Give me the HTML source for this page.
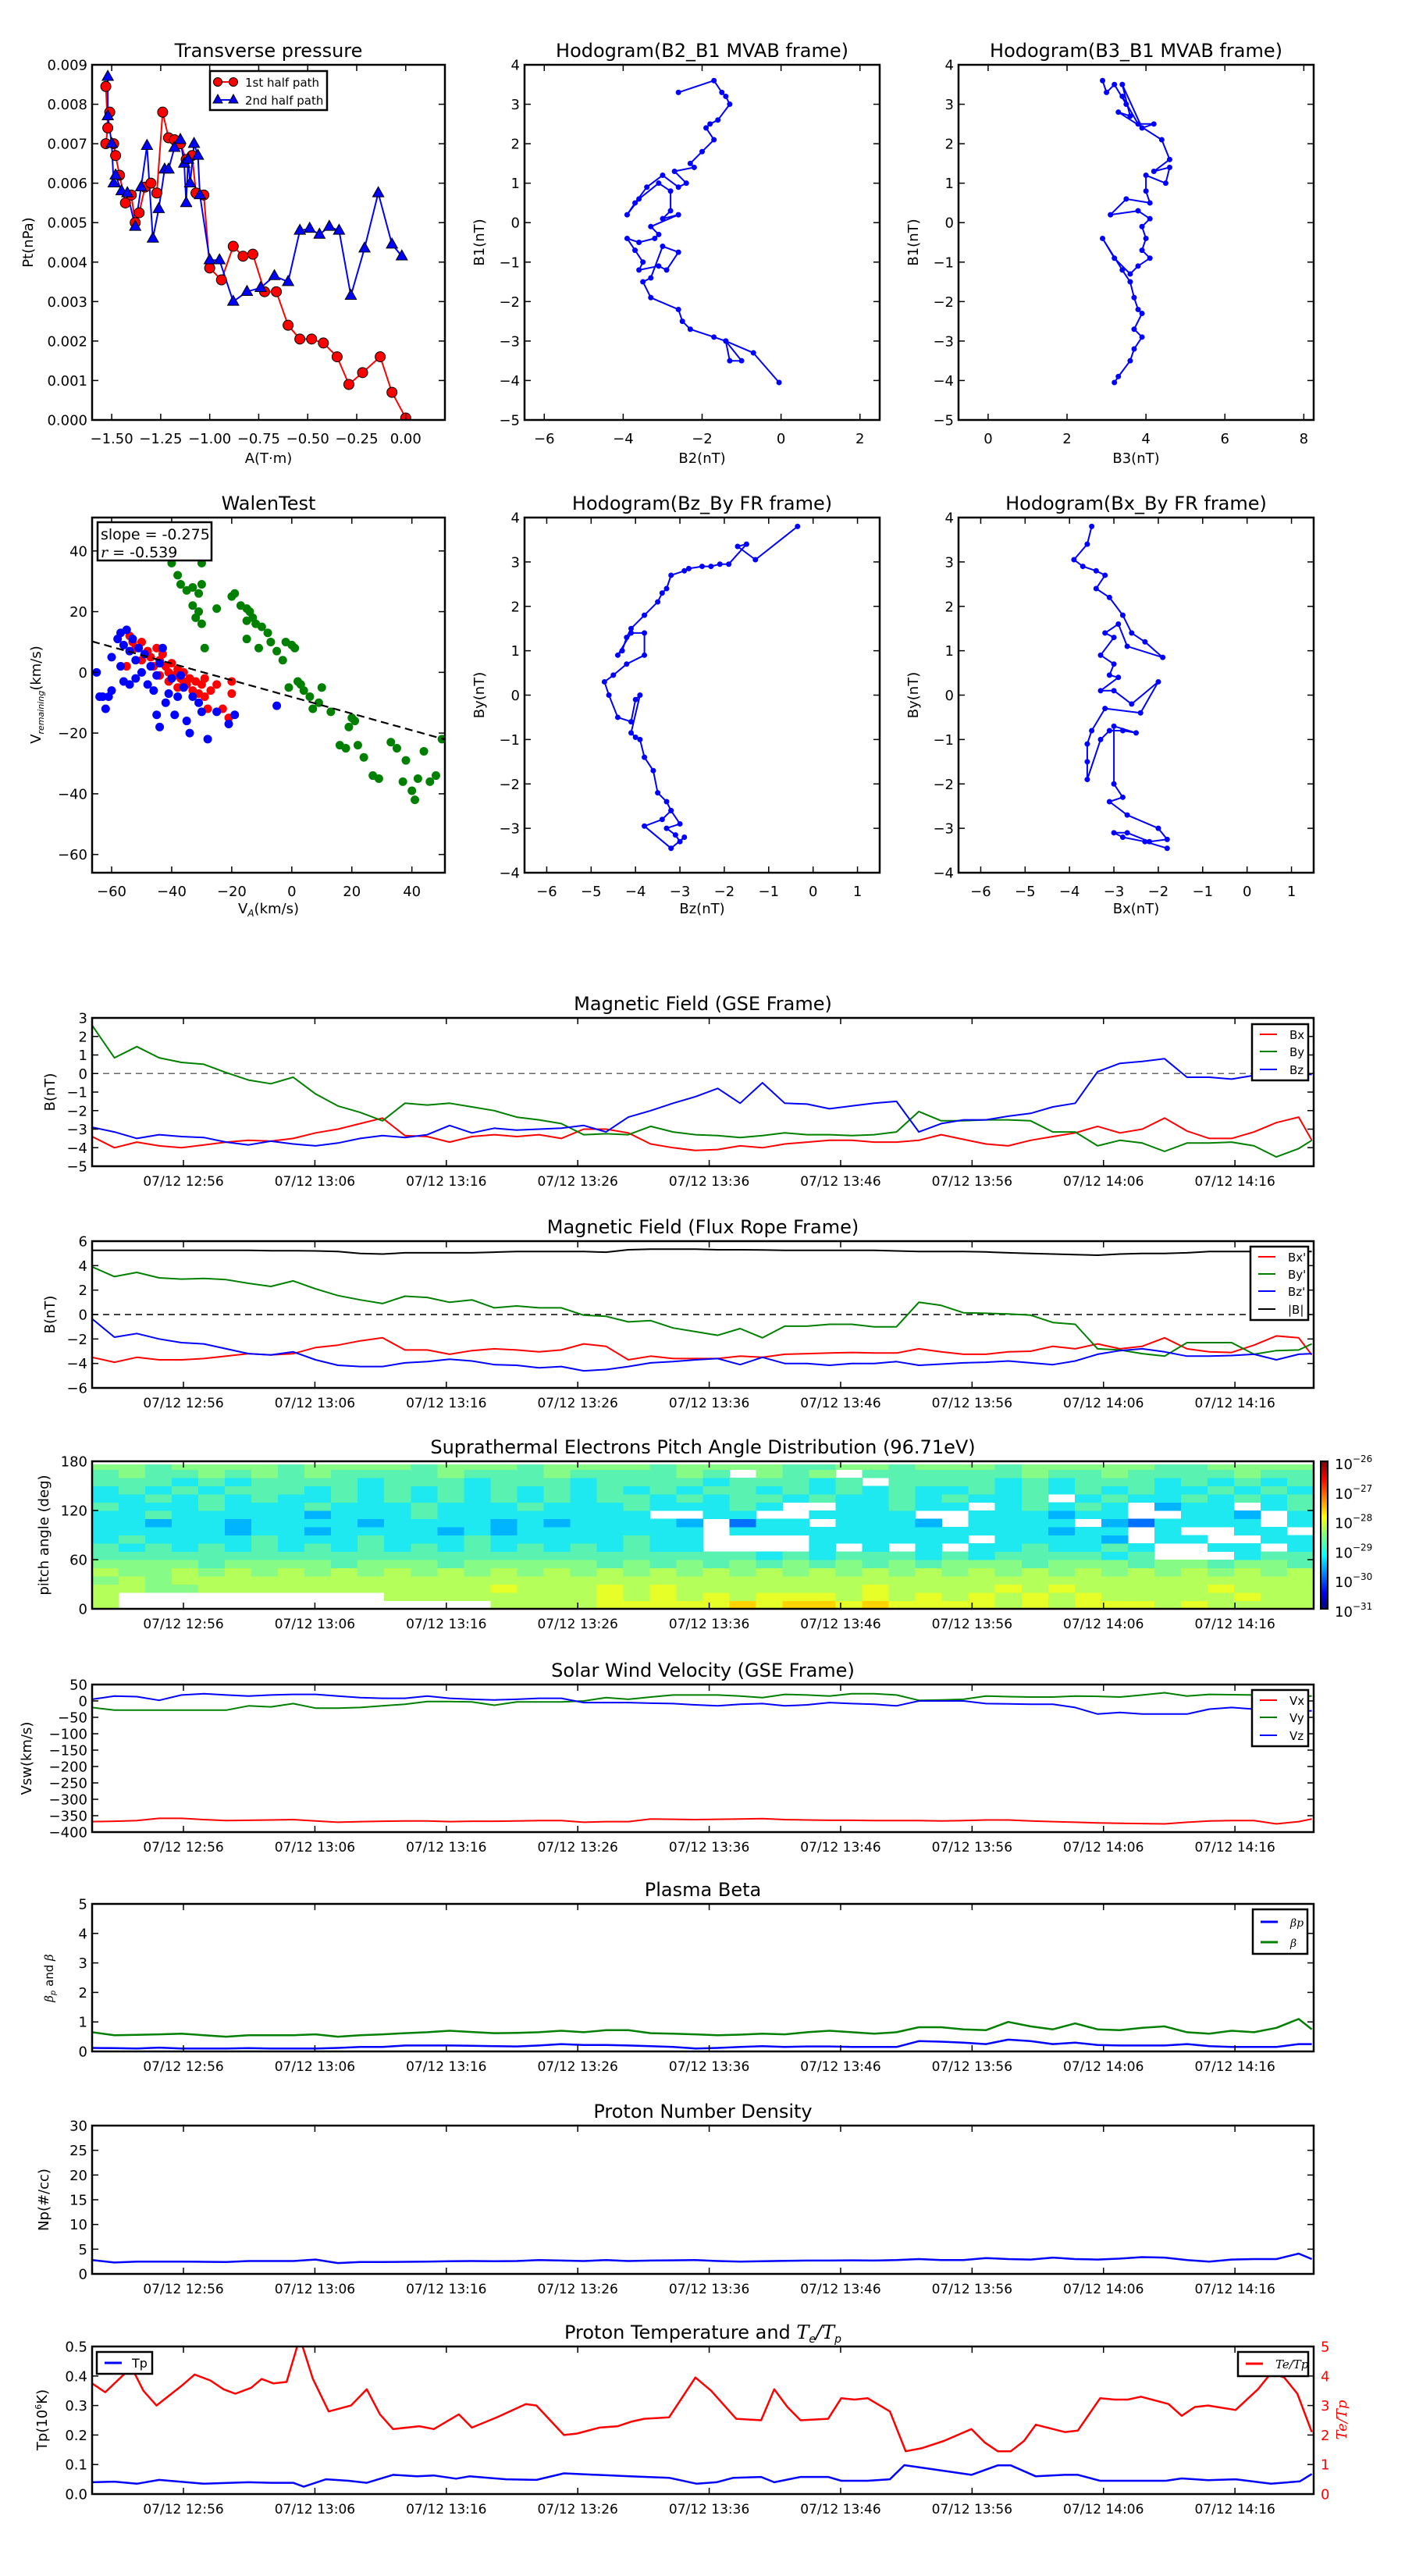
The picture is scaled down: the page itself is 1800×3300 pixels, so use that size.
<!DOCTYPE html>
<html><head><meta charset="utf-8">
<style>
html,body{margin:0;padding:0;background:#fff;}
svg{display:block;font-family:"DejaVu Sans","Liberation Sans",sans-serif;}
</style></head>
<body>
<svg id="fig" width="1800" height="3300" viewBox="0 0 1800 3300" xmlns="http://www.w3.org/2000/svg">
<rect width="1800" height="3300" fill="#fff"/>
</svg>
<script>
// ---------- data: transverse pressure ----------
const ptRedA=[-1.53,-1.52,-1.51,-1.53,-1.49,-1.48,-1.46,-1.43,-1.40,-1.38,-1.36,-1.33,-1.30,-1.27,-1.24,-1.21,-1.18,-1.15,-1.12,-1.09,-1.07,-1.03,-1.00,-0.94,-0.88,-0.83,-0.78,-0.72,-0.66,-0.60,-0.54,-0.48,-0.42,-0.35,-0.29,-0.22,-0.13,-0.07,0.00];
const ptRedP=[8.45,7.4,7.8,7.0,7.0,6.7,6.2,5.5,5.7,5.0,5.25,5.9,6.0,5.75,7.8,7.15,7.1,7.0,6.6,6.7,5.75,5.7,3.85,3.55,4.4,4.15,4.2,3.25,3.25,2.4,2.05,2.05,1.95,1.6,0.9,1.2,1.6,0.7,0.05];
const ptBlueA=[-1.52,-1.52,-1.50,-1.49,-1.48,-1.45,-1.42,-1.38,-1.35,-1.32,-1.29,-1.26,-1.23,-1.21,-1.18,-1.15,-1.13,-1.12,-1.11,-1.10,-1.08,-1.06,-1.05,-1.00,-0.95,-0.88,-0.81,-0.74,-0.67,-0.60,-0.54,-0.49,-0.44,-0.39,-0.34,-0.28,-0.21,-0.14,-0.07,-0.02];
const ptBlueP=[8.7,7.7,7.0,6.0,6.2,5.8,5.75,4.9,5.9,6.95,4.6,5.35,6.35,6.35,6.9,7.1,6.5,5.5,6.6,6.0,7.0,6.7,5.7,4.05,4.05,3.0,3.25,3.35,3.65,3.5,4.8,4.85,4.7,4.9,4.8,3.15,4.35,5.75,4.45,4.15];
// ---------- hodogram B2-B1 ----------
const h1B2=[-2.6,-1.7,-1.5,-1.4,-1.3,-1.6,-1.8,-1.9,-1.7,-2.0,-2.3,-2.2,-2.7,-2.4,-2.6,-3.0,-3.4,-3.7,-3.9,-3.6,-3.1,-2.8,-2.8,-3.0,-2.6,-3.3,-3.1,-3.2,-3.6,-3.9,-3.7,-3.5,-3.6,-3.1,-2.9,-2.6,-3.0,-3.3,-3.5,-3.3,-2.6,-2.5,-2.3,-1.7,-1.4,-1.3,-1.0,-1.4,-0.7,-0.05];
const h1B1=[3.3,3.6,3.3,3.2,3.0,2.6,2.5,2.4,2.1,1.8,1.5,1.4,1.3,1.0,0.9,1.2,0.9,0.5,0.2,0.6,1.0,0.8,0.3,0.1,0.2,-0.1,-0.3,-0.4,-0.5,-0.4,-0.7,-1.0,-1.2,-1.1,-1.2,-0.75,-0.6,-1.4,-1.5,-1.9,-2.2,-2.5,-2.7,-2.9,-3.0,-3.5,-3.5,-3.0,-3.3,-4.05];
// ---------- hodogram B3-B1 ----------
const h2B3=[2.9,3.0,3.2,3.5,3.4,3.8,4.2,3.9,3.4,3.6,3.3,4.4,4.6,4.2,4.6,4.5,4.0,4.0,4.1,3.5,3.1,3.8,4.1,3.9,4.0,3.9,4.1,3.8,3.6,3.2,2.9,3.4,3.6,3.7,3.8,3.9,3.7,3.9,3.7,3.6,3.3,3.2];
const h2B1=[3.6,3.3,3.5,3.0,3.2,2.5,2.5,2.4,3.5,2.7,2.8,2.1,1.6,1.3,1.4,1.0,1.2,0.8,0.5,0.6,0.2,0.3,0.1,-0.1,-0.4,-0.7,-0.9,-1.1,-1.3,-0.9,-0.4,-1.2,-1.5,-1.9,-2.2,-2.3,-2.7,-2.9,-3.2,-3.5,-3.9,-4.05];
// ---------- Walen test ----------
const wGreenX=[-40,-38,-37,-35,-33,-31,-30,-33,-31,-30,-32,-29,-25,-20,-19,-17,-15,-14,-13,-12,-15,-10,-8,-15,-11,-7,-5,-3,-2,0,1,-1,2,3,4,6,7,9,10,13,16,19,20,18,22,24,27,29,33,35,37,38,40,41,42,44,46,48,50,21,-30];
const wGreenY=[36,32,29,27,28,26,29,22,20,16,18,8,21,25,26,22,21,20,18,16,17,15,13,11,8,10,7,4,10,9,8,-5,-3,-4,-6,-8,-12,-10,-5,-13,-24,-18,-15,-25,-24,-28,-34,-35,-23,-25,-36,-29,-39,-42,-35,-26,-36,-34,-22,-16,36];
const wRedX=[-54,-53,-52,-50,-48,-47,-45,-44,-43,-42,-41,-40,-39,-38,-37,-36,-35,-34,-33,-32,-30,-29,-28,-27,-25,-23,-21,-20,-55,-50,-46,-44,-41,-38,-36,-31,-20,-29];
const wRedY=[12,10,8,10,7,5,8,4,6,2,0,3,-1,1,-2,0,-4,-2,-6,-3,-4,-8,-12,-6,-4,-12,-15,-7,2,4,2,-1,-3,-5,-3,-7,-3,-2];
const wBlueX=[-65,-63,-62,-61,-60,-58,-57,-56,-55,-54,-53,-52,-51,-50,-49,-48,-47,-46,-45,-44,-43,-42,-41,-40,-39,-38,-36,-35,-34,-33,-31,-30,-28,-25,-21,-19,-5,-60,-57,-54,-52,-45,-44,-37,-64,-56];
const wBlueY=[0,-8,-12,-8,5,11,13,9,14,7,11,4,8,0,6,-4,2,-6,-1,3,8,-10,-7,-2,-14,-8,-5,-16,-20,-8,-10,-13,-22,-13,-17,-14,-11,-6,2,-4,-2,-14,-18,-1,-8,-3];
const walenFitX=[-66.5,51];
const walenFitY=[10.2,-22.1];
// ---------- hodogram Bz-By ----------
const h3Bz=[-0.35,-1.3,-1.7,-1.5,-1.9,-2.1,-2.3,-2.5,-2.8,-2.9,-3.2,-3.3,-3.4,-3.5,-3.8,-4.1,-4.2,-4.3,-4.4,-4.1,-3.8,-3.8,-4.2,-4.5,-4.7,-4.6,-4.4,-4.1,-4.0,-3.9,-4.1,-4.0,-3.9,-3.8,-3.6,-3.5,-3.3,-3.2,-3.0,-3.3,-3.1,-3.0,-2.9,-3.2,-3.8,-3.4,-3.2];
const h3By=[3.8,3.05,3.35,3.4,2.95,2.95,2.9,2.9,2.85,2.8,2.7,2.4,2.3,2.1,1.8,1.5,1.3,1.0,0.9,1.4,1.4,0.9,0.7,0.45,0.3,0.0,-0.5,-0.6,-0.1,0.0,-0.85,-0.95,-1.0,-1.4,-1.7,-2.2,-2.4,-2.6,-2.9,-3.0,-3.15,-3.3,-3.2,-3.45,-2.95,-2.8,-2.6];
// ---------- hodogram Bx-By ----------
const h4Bx=[-3.5,-3.6,-3.9,-3.7,-3.4,-3.2,-3.4,-3.1,-2.8,-2.6,-2.3,-1.9,-2.7,-2.9,-3.2,-3.0,-3.3,-3.0,-3.1,-2.9,-3.3,-3.0,-2.6,-2.0,-2.4,-3.2,-3.5,-3.6,-3.6,-3.6,-3.3,-3.1,-2.8,-2.5,-3.0,-3.0,-2.8,-3.1,-2.7,-2.0,-1.8,-2.2,-2.7,-3.0,-2.8,-2.3,-1.8];
const h4By=[3.8,3.4,3.05,2.9,2.8,2.7,2.4,2.2,1.8,1.4,1.2,0.85,1.1,1.6,1.4,1.3,0.9,0.7,0.45,0.4,0.1,0.1,-0.2,0.3,-0.4,-0.3,-0.8,-1.1,-1.5,-1.9,-1.0,-0.8,-0.8,-0.85,-0.7,-2.0,-2.3,-2.4,-2.7,-3.0,-3.25,-3.3,-3.1,-3.1,-3.2,-3.3,-3.45];
// ---------- time series (minutes after 12:49:03) ----------
const tGrid=[0,1.7,3.4,5.1,6.8,8.5,10.2,11.9,13.6,15.3,17.0,18.7,20.4,22.1,23.8,25.5,27.2,28.9,30.6,32.3,34.0,35.7,37.4,39.1,40.8,42.5,44.2,45.9,47.6,49.3,51.0,52.7,54.4,56.1,57.8,59.5,61.2,62.9,64.6,66.3,68.0,69.7,71.4,73.1,74.8,76.5,78.2,79.9,81.6,83.3,85.0,86.7,88.4,90.1,91.8,92.8];
const timeTicks=["07/12 12:56","07/12 13:06","07/12 13:16","07/12 13:26","07/12 13:36","07/12 13:46","07/12 13:56","07/12 14:06","07/12 14:16"];
const timeTickMin=[6.95,16.95,26.95,36.95,46.95,56.95,66.95,76.95,86.95];
const gseBx=[-3.4,-4.0,-3.7,-3.9,-4.0,-3.85,-3.7,-3.6,-3.65,-3.5,-3.2,-3.0,-2.7,-2.4,-3.35,-3.4,-3.7,-3.4,-3.3,-3.4,-3.3,-3.5,-3.0,-3.0,-3.2,-3.8,-4.0,-4.15,-4.1,-3.9,-4.0,-3.8,-3.7,-3.6,-3.6,-3.7,-3.7,-3.6,-3.3,-3.55,-3.8,-3.9,-3.6,-3.4,-3.2,-2.85,-3.2,-3.0,-2.4,-3.1,-3.5,-3.5,-3.15,-2.65,-2.35,-3.6];
const gseBy=[2.6,0.85,1.45,0.85,0.6,0.5,0.05,-0.35,-0.55,-0.2,-1.1,-1.75,-2.1,-2.55,-1.6,-1.7,-1.6,-1.8,-2.0,-2.35,-2.5,-2.7,-3.3,-3.25,-3.3,-2.85,-3.15,-3.3,-3.35,-3.45,-3.35,-3.2,-3.3,-3.3,-3.35,-3.3,-3.15,-2.05,-2.55,-2.55,-2.5,-2.5,-2.55,-3.15,-3.15,-3.9,-3.6,-3.75,-4.2,-3.75,-3.75,-3.7,-3.9,-4.5,-4.05,-3.6];
const gseBz=[-2.9,-3.15,-3.5,-3.3,-3.4,-3.45,-3.7,-3.85,-3.65,-3.8,-3.9,-3.75,-3.5,-3.35,-3.45,-3.3,-2.8,-3.2,-2.95,-3.05,-3.0,-2.95,-2.8,-3.15,-2.35,-2.0,-1.6,-1.25,-0.8,-1.6,-0.5,-1.6,-1.65,-1.9,-1.75,-1.6,-1.5,-3.15,-2.7,-2.5,-2.5,-2.3,-2.15,-1.8,-1.6,0.1,0.55,0.65,0.8,-0.2,-0.2,-0.3,-0.1,-0.1,-0.05,-0.05];
const frBx=[-3.5,-3.9,-3.5,-3.7,-3.7,-3.6,-3.4,-3.2,-3.3,-3.2,-2.7,-2.5,-2.15,-1.9,-2.9,-2.9,-3.25,-2.95,-2.8,-2.9,-3.05,-2.9,-2.4,-2.6,-3.7,-3.4,-3.6,-3.6,-3.6,-3.4,-3.5,-3.25,-3.2,-3.15,-3.1,-3.15,-3.15,-2.8,-3.05,-3.25,-3.25,-3.05,-3.0,-2.6,-2.8,-2.4,-2.8,-2.6,-1.9,-2.8,-3.05,-3.1,-2.5,-1.75,-1.9,-3.3];
const frBy=[3.9,3.1,3.45,3.0,2.9,2.95,2.85,2.55,2.3,2.75,2.1,1.55,1.2,0.9,1.5,1.4,1.0,1.2,0.55,0.7,0.55,0.55,-0.05,-0.15,-0.6,-0.5,-1.1,-1.4,-1.7,-1.15,-1.9,-0.95,-0.95,-0.8,-0.8,-1.0,-1.0,1.0,0.75,0.15,0.1,0.05,-0.05,-0.65,-0.8,-2.8,-2.9,-3.2,-3.4,-2.3,-2.3,-2.3,-3.25,-2.95,-2.9,-2.4];
const frBz=[-0.35,-1.85,-1.55,-2.0,-2.3,-2.4,-2.8,-3.2,-3.3,-3.05,-3.7,-4.15,-4.25,-4.25,-3.95,-3.85,-3.65,-3.8,-4.1,-4.15,-4.35,-4.25,-4.6,-4.5,-4.25,-3.95,-3.85,-3.7,-3.6,-4.1,-3.5,-4.0,-4.0,-4.15,-4.0,-4.0,-3.85,-4.15,-4.05,-3.95,-3.9,-3.8,-3.95,-4.1,-3.8,-3.25,-2.95,-2.8,-3.05,-3.4,-3.4,-3.35,-3.25,-3.7,-3.25,-3.2];
const frB=[5.25,5.25,5.25,5.25,5.25,5.25,5.25,5.25,5.22,5.22,5.2,5.15,5.0,4.95,5.05,5.05,5.05,5.05,5.1,5.15,5.15,5.15,5.15,5.1,5.3,5.35,5.35,5.35,5.3,5.3,5.28,5.25,5.25,5.25,5.25,5.25,5.2,5.15,5.15,5.15,5.12,5.05,5.0,4.95,4.9,4.85,4.95,5.0,5.0,5.05,5.15,5.15,5.15,5.15,5.15,5.15];
const vx=[-368,-367,-365,-358,-358,-362,-365,-364,-363,-362,-366,-370,-368,-367,-366,-366,-368,-367,-367,-366,-365,-365,-370,-368,-368,-360,-361,-362,-361,-360,-359,-362,-363,-364,-364,-365,-365,-365,-366,-365,-363,-363,-366,-368,-370,-372,-373,-374,-375,-370,-366,-365,-365,-375,-368,-360];
const vy=[-20,-28,-28,-28,-28,-28,-28,-15,-18,-8,-22,-22,-20,-15,-10,-2,-2,-3,-13,-3,-3,-3,0,10,5,12,18,18,18,15,10,20,18,15,22,22,18,2,3,5,15,13,12,12,15,14,12,18,25,15,20,19,18,15,15,15];
const vz=[5,15,13,2,18,22,18,15,18,20,20,15,10,8,8,15,8,5,3,5,8,8,-5,-5,-5,-7,-8,-12,-15,-10,-8,-15,-12,-5,-8,-10,-15,0,0,0,-8,-9,-10,-10,-20,-40,-35,-40,-40,-40,-25,-20,-25,-38,-32,-30];
const betaTot=[0.65,0.55,0.56,0.58,0.6,0.55,0.5,0.55,0.55,0.55,0.58,0.5,0.55,0.58,0.62,0.65,0.7,0.66,0.62,0.63,0.65,0.7,0.65,0.72,0.72,0.62,0.6,0.58,0.55,0.57,0.6,0.58,0.65,0.7,0.65,0.6,0.65,0.82,0.82,0.75,0.72,1.0,0.85,0.75,0.95,0.75,0.72,0.8,0.85,0.65,0.6,0.7,0.65,0.8,1.1,0.75];
const betaP=[0.12,0.11,0.1,0.13,0.1,0.1,0.1,0.11,0.1,0.1,0.1,0.12,0.15,0.15,0.2,0.2,0.2,0.19,0.18,0.17,0.2,0.25,0.22,0.22,0.2,0.18,0.15,0.1,0.12,0.15,0.18,0.15,0.17,0.17,0.15,0.15,0.15,0.35,0.33,0.3,0.25,0.4,0.35,0.25,0.3,0.22,0.2,0.2,0.2,0.25,0.18,0.15,0.15,0.15,0.25,0.25];
const np=[2.8,2.3,2.5,2.5,2.5,2.45,2.4,2.6,2.6,2.6,2.9,2.2,2.4,2.4,2.45,2.5,2.55,2.6,2.55,2.6,2.8,2.7,2.6,2.8,2.6,2.7,2.75,2.8,2.6,2.5,2.55,2.65,2.7,2.7,2.75,2.7,2.8,3.0,2.8,2.8,3.2,3.0,2.9,3.3,3.0,2.9,3.1,3.4,3.3,2.8,2.5,2.9,3.0,3.0,4.1,3.0];
const tpTime=[0,1.7,3.4,5.1,8.5,11.9,13.6,15.3,16.1,17.8,19.5,20.9,22.9,24.7,26.0,27.7,28.7,31.5,33.8,35.9,40.9,43.9,46.0,47.5,48.8,50.9,51.9,53.9,56.0,57.0,59.0,60.7,61.8,66.9,68.9,69.9,71.8,74.0,75.0,76.7,80.2,81.7,82.9,84.9,87.0,89.7,91.9,92.8];
const tp=[0.04,0.042,0.035,0.048,0.035,0.04,0.038,0.038,0.025,0.05,0.045,0.038,0.065,0.06,0.063,0.052,0.06,0.05,0.048,0.07,0.06,0.055,0.035,0.04,0.055,0.058,0.04,0.058,0.058,0.045,0.045,0.05,0.098,0.065,0.097,0.097,0.06,0.065,0.065,0.045,0.045,0.045,0.053,0.047,0.05,0.035,0.043,0.068];
const teTime=[0,1.0,3.0,3.9,4.9,6.9,7.8,9.0,10.0,10.9,12.1,12.9,13.8,14.8,15.8,16.8,18.0,19.7,20.9,21.9,22.9,24.9,26.0,27.9,28.9,30.8,33.0,33.8,35.9,36.9,38.6,40.0,41.0,42.0,43.9,45.9,47.1,49.0,50.9,51.9,52.9,53.9,56.0,57.0,58.0,59.0,60.7,61.9,63.1,64.8,66.9,67.9,68.9,69.9,70.9,71.8,74.0,75.0,76.7,77.8,78.8,79.8,81.9,82.9,83.9,84.9,87.0,88.7,89.7,90.7,91.7,92.8];
const teTp=[3.75,3.45,4.3,3.5,3.0,3.7,4.05,3.85,3.55,3.4,3.6,3.9,3.75,3.8,5.3,3.9,2.8,3.0,3.55,2.7,2.2,2.3,2.2,2.7,2.25,2.6,3.05,3.0,2.0,2.05,2.25,2.3,2.45,2.55,2.6,3.95,3.5,2.55,2.5,3.55,2.95,2.5,2.55,3.25,3.2,3.25,2.8,1.45,1.55,1.8,2.2,1.75,1.45,1.45,1.8,2.35,2.1,2.15,3.25,3.2,3.2,3.3,3.05,2.65,2.95,3.0,2.85,3.55,4.1,3.95,3.4,2.1];
// ---------- pitch angle distribution (level 0=no data, 2..9 ~ log flux) ----------
const padAngleBins=[0,10,20,30,40,50,60,70,80,90,100,110,120,130,140,150,160,170];
const padRows=[
"7000000000000007777888889899898888787888787777",
"7000000000077777777878787888787878787877777877",
"7766777777777778777878777777787777878777778777",
"6767777777777777777777777777777777777777777777",
"7667676767676767676767676767676767676767676767",
"6666566665666566666565656565656566656665665665",
"5555555555555555555555555454555454555545000455",
"5454545454545454545454400004040404454454004404",
"4544445444544454444454400004444440444430440044",
"4444434434444343444444404444444444443440400440",
"4434434444344443434444302440444304444032444404",
"4454444434445444444440044004444004443440044304",
"5444544454445444544454445400445440454540344045",
"4454545445454545454554545545445454450454454545",
"4545455545454545454545455454545445454545445454",
"5554545555455545554555545554505555454555454545",
"5655656565555655565555650656055555565565555655",
"6656666566665666566665666655665666566666556666"];
const padLevelColors=["#ffffff","#0000ff","#0070ff","#00b4ff","#1ee8f0","#5af2b0","#86fb86","#b4ff5a","#e6ff28","#ffd400"];
const cbarLabels=["-26","-27","-28","-29","-30","-31"];
</script>
<script>
const NS='http://www.w3.org/2000/svg';
const svg=document.getElementById('fig');
function mk(tag,attrs,parent,name,inter){
  const e=document.createElementNS(NS,tag);
  for(const k in attrs) e.setAttribute(k,attrs[k]);
  
  
  (parent||svg).appendChild(e);
  return e;
}
function txt(x,y,s,opts,name,parent){
  const o=Object.assign({'font-size':18,fill:'#000'},opts||{});
  o.x=x;o.y=y;
  const e=mk('text',o,parent,name,false);
  e.textContent=s;return e;
}
const fmtMinus=s=>String(s).replace('-','\u2212');
let clipId=0;
function axes(b){
  const g=mk('g',{},svg,b.name,false);
  const sx=v=>b.x0+(v-b.xmin)/(b.xmax-b.xmin)*(b.x1-b.x0);
  const sy=v=>b.y1-(v-b.ymin)/(b.ymax-b.ymin)*(b.y1-b.y0);
  const cid='c'+(clipId++);
  const cp=mk('clipPath',{id:cid},g,'clip',false);
  mk('rect',{x:b.x0,y:b.y0,width:b.x1-b.x0,height:b.y1-b.y0},cp,'clip-rect',false);
  const plot=mk('g',{'clip-path':'url(#'+cid+')'},g,'plot-area',false);
  return {g,plot,sx,sy,b};
}
function frame(A,xt,xl,yt,yl,opt){
  opt=opt||{};
  const {g,sx,sy,b}=A;
  const tg=mk('g',{stroke:'#000','stroke-width':1.5},g,'ticks',false);
  xt.forEach((v,i)=>{const X=sx(v);
    mk('line',{x1:X,x2:X,y1:b.y1,y2:b.y1-8},tg,'x-tick',false);
    mk('line',{x1:X,x2:X,y1:b.y0,y2:b.y0+8},tg,'x-tick-top',false);
    if(xl) txt(X,b.y1+(opt.xlOff||26),xl[i],{'text-anchor':'middle','font-size':opt.xfs||18},'x-tick-label',g);
  });
  yt.forEach((v,i)=>{const Y=sy(v);
    mk('line',{x1:b.x0,x2:b.x0+8,y1:Y,y2:Y},tg,'y-tick',false);
    if(!opt.noRightTicks) mk('line',{x1:b.x1,x2:b.x1-8,y1:Y,y2:Y},tg,'y-tick-right',false);
    txt(b.x0-6,Y+6.5,yl[i],{'text-anchor':'end','font-size':18},'y-tick-label',g);
  });
  mk('rect',{x:b.x0,y:b.y0,width:b.x1-b.x0,height:b.y1-b.y0,fill:'none',stroke:'#000','stroke-width':2.5},g,'axes-frame',false);
}
function poly(A,xs,ys,color,w,name,dash){
  const pts=xs.map((x,i)=>A.sx(x).toFixed(1)+','+A.sy(ys[i]).toFixed(1)).join(' ');
  const o={points:pts,fill:'none',stroke:color,'stroke-width':w||2,'stroke-linejoin':'round'};
  if(dash) o['stroke-dasharray']=dash;
  return mk('polyline',o,A.plot,name,false);
}
function dots(A,xs,ys,color,r,name,stroke){
  const g=mk('g',{},A.plot,name,false);
  xs.forEach((x,i)=>{
    const o={cx:A.sx(x),cy:A.sy(ys[i]),r:r,fill:color};
    if(stroke){o.stroke='#000';o['stroke-width']=1;}
    mk('circle',o,g,name+'-point',false);
  });
}
function tris(A,xs,ys,color,s,name){
  const g=mk('g',{},A.plot,name,false);
  xs.forEach((x,i)=>{const X=A.sx(x),Y=A.sy(ys[i]);
    mk('polygon',{points:`${X},${Y-s} ${X-s*0.9},${Y+s*0.6} ${X+s*0.9},${Y+s*0.6}`,fill:color,stroke:'#000','stroke-width':1},g,name+'-point',false);
  });
}
function title(A,s,name){txt((A.b.x0+A.b.x1)/2,A.b.y0-10,s,{'text-anchor':'middle','font-size':24},name||'chart-title',A.g);}
function ylabel(A,x,s,name,fs,color){
  const cy=(A.b.y0+A.b.y1)/2;
  const e=txt(x,cy,s,{'text-anchor':'middle','font-size':fs||18,transform:`rotate(-90 ${x} ${cy})`,fill:color||'#000'},name||'y-axis-title',A.g);
  return e;
}
function xlabel(A,y,s,name){return txt((A.b.x0+A.b.x1)/2,y,s,{'text-anchor':'middle','font-size':18},name||'x-axis-title',A.g);}
function rng(a,b,s){const r=[];for(let v=a;v<=b+1e-9;v+=s)r.push(+v.toFixed(6));return r;}
function legend(parent,x,y,w,h,items,name,fs){
  const g=mk('g',{},parent,name,false);
  mk('rect',{x,y,width:w,height:h,fill:'#fff',stroke:'#000','stroke-width':2.5},g,'legend-box',false);
  items.forEach((it,i)=>{
    const cy=y+it.dy;
    mk('line',{x1:x+10,x2:x+32,y1:cy,y2:cy,stroke:it.c,'stroke-width':it.w||2},g,'legend-line',false);
    const t=txt(x+it.tx,cy+6,it.t,{'font-size':fs||16,fill:'#000','font-style':it.it?'italic':'normal','font-family':it.serif?'"DejaVu Serif","Liberation Serif",serif':'inherit'},'legend-entry',g);
  });
  return g;
}

// ===== Row 1 =====
let A=axes({name:'transverse-pressure-chart',x0:118,x1:570,y0:83,y1:538,xmin:-1.6,xmax:0.2,ymin:0,ymax:9});
poly(A,ptRedA,ptRedP,'#ff0000',2,'first-half-line');
poly(A,ptBlueA,ptBlueP,'#0000ff',2,'second-half-line');
dots(A,ptRedA,ptRedP,'#ff0000',6.5,'first-half-markers',true);
tris(A,ptBlueA,ptBlueP,'#0000ff',8,'second-half-markers');
frame(A,[-1.5,-1.25,-1,-0.75,-0.5,-0.25,0],['\u22121.50','\u22121.25','\u22121.00','\u22120.75','\u22120.50','\u22120.25','0.00'],rng(0,9,1),rng(0,9,1).map(v=>(v/1000).toFixed(3)),{xlOff:30});
title(A,'Transverse pressure');
xlabel(A,593,'A(T\u00b7m)');
ylabel(A,42,'Pt(nPa)');
{const g=legend(A.g,269,91,150,50,[],'pressure-legend');
 const items=[['1st half path','#ff0000',0,14],['2nd half path','#0000ff',1,37]];
 items.forEach(it=>{const cy=91+it[3];
  mk('line',{x1:279,x2:299,y1:cy,y2:cy,stroke:it[1],'stroke-width':2},g,'legend-line',false);
  if(it[2]===0){mk('circle',{cx:279,cy,r:5.5,fill:it[1],stroke:'#000'},g,'legend-marker',false);mk('circle',{cx:299,cy,r:5.5,fill:it[1],stroke:'#000'},g,'legend-marker',false);}
  else{[279,299].forEach(X=>mk('polygon',{points:`${X},${cy-7} ${X-6},${cy+4} ${X+6},${cy+4}`,fill:it[1],stroke:'#000'},g,'legend-marker',false));}
  txt(314,cy+6,it[0],{'font-size':15},'legend-entry',g);});
}

A=axes({name:'hodogram-b2-b1',x0:672,x1:1127,y0:83,y1:538,xmin:-6.5,xmax:2.5,ymin:-5,ymax:4});
poly(A,h1B2,h1B1,'#0000ff',2,'hodogram-line');dots(A,h1B2,h1B1,'#0000ff',3.5,'hodogram-points');
frame(A,rng(-6,2,2),rng(-6,2,2).map(fmtMinus),rng(-5,4,1),rng(-5,4,1).map(fmtMinus),{xlOff:30});
title(A,'Hodogram(B2_B1 MVAB frame)');xlabel(A,593,'B2(nT)');ylabel(A,620,'B1(nT)');

A=axes({name:'hodogram-b3-b1',x0:1228,x1:1683,y0:83,y1:538,xmin:-0.75,xmax:8.25,ymin:-5,ymax:4});
poly(A,h2B3,h2B1,'#0000ff',2,'hodogram-line');dots(A,h2B3,h2B1,'#0000ff',3.5,'hodogram-points');
frame(A,rng(0,8,2),rng(0,8,2).map(String),rng(-5,4,1),rng(-5,4,1).map(fmtMinus),{xlOff:30});
title(A,'Hodogram(B3_B1 MVAB frame)');xlabel(A,593,'B3(nT)');ylabel(A,1176,'B1(nT)');

// ===== Row 2 =====
A=axes({name:'walen-test-chart',x0:118,x1:570,y0:663,y1:1118,xmin:-66.5,xmax:51,ymin:-66,ymax:51});
dots(A,wGreenX,wGreenY,'#008000',5.5,'green-points');
dots(A,wRedX,wRedY,'#ff0000',5.5,'red-points');
dots(A,wBlueX,wBlueY,'#0000ff',5.5,'blue-points');
poly(A,walenFitX,walenFitY,'#000',2.2,'fit-line','10,6');
frame(A,rng(-60,40,20),rng(-60,40,20).map(fmtMinus),rng(-60,40,20),rng(-60,40,20).map(fmtMinus),{xlOff:30});
title(A,'WalenTest');
{const t=txt(344,1170,'V',{'font-size':18,'text-anchor':'middle'},'x-axis-title',A.g);const s=mk('tspan',{'font-size':12,'font-style':'italic',dy:4},t,'subscript',false);s.textContent='A';const r=mk('tspan',{dy:-4},t,'unit',false);r.textContent='(km/s)';}
{const cy=890;const t=txt(52,cy,'V',{'font-size':18,'text-anchor':'middle',transform:`rotate(-90 52 ${cy})`},'y-axis-title',A.g);const s=mk('tspan',{'font-size':11,'font-style':'italic',dy:4},t,'subscript',false);s.textContent='remaining';const r=mk('tspan',{dy:-4},t,'unit',false);r.textContent='(km/s)';}
{const g=mk('g',{},A.g,'fit-stats-box',false);
 mk('rect',{x:125,y:669,width:146,height:49,fill:'#fff',stroke:'#000','stroke-width':2.5},g,'stats-frame',false);
 txt(129,691,'slope = -0.275',{'font-size':19},'slope-text',g);
 const t=txt(129,714,'',{'font-size':19},'r-text',g);
 const a=mk('tspan',{'font-style':'italic','font-family':'"DejaVu Serif",serif'},t,'r-symbol',false);a.textContent='r';
 const b=mk('tspan',{},t,'r-value',false);b.textContent=' = -0.539';}

A=axes({name:'hodogram-bz-by',x0:672,x1:1127,y0:663,y1:1118,xmin:-6.5,xmax:1.5,ymin:-4,ymax:4});
poly(A,h3Bz,h3By,'#0000ff',2,'hodogram-line');dots(A,h3Bz,h3By,'#0000ff',3.5,'hodogram-points');
frame(A,rng(-6,1,1),rng(-6,1,1).map(fmtMinus),rng(-4,4,1),rng(-4,4,1).map(fmtMinus),{xlOff:30});
title(A,'Hodogram(Bz_By FR frame)');xlabel(A,1170,'Bz(nT)');ylabel(A,620,'By(nT)');

A=axes({name:'hodogram-bx-by',x0:1228,x1:1683,y0:663,y1:1118,xmin:-6.5,xmax:1.5,ymin:-4,ymax:4});
poly(A,h4Bx,h4By,'#0000ff',2,'hodogram-line');dots(A,h4Bx,h4By,'#0000ff',3.5,'hodogram-points');
frame(A,rng(-6,1,1),rng(-6,1,1).map(fmtMinus),rng(-4,4,1),rng(-4,4,1).map(fmtMinus),{xlOff:30});
title(A,'Hodogram(Bx_By FR frame)');xlabel(A,1170,'Bx(nT)');ylabel(A,1176,'By(nT)');

// ===== Time panels =====
const TX0=118,TX1=1683,TMAX=92.94;
function tpanel(name,y0,y1,ymin,ymax){return axes({name,x0:TX0,x1:TX1,y0,y1,xmin:0,xmax:TMAX,ymin,ymax});}
function tframe(A,yt,yl,opt){frame(A,timeTickMin,timeTicks,yt,yl,Object.assign({xlOff:25,xfs:17},opt||{}));}

A=tpanel('gse-magnetic-field-chart',1304,1494,-5,3);
poly(A,[0,TMAX],[0,0],'#666',1.5,'zero-line','8,6');
poly(A,tGrid,gseBx,'#ff0000',2,'bx-line');poly(A,tGrid,gseBy,'#008000',2,'by-line');poly(A,tGrid,gseBz,'#0000ff',2,'bz-line');
tframe(A,rng(-5,3,1),rng(-5,3,1).map(fmtMinus));title(A,'Magnetic Field (GSE Frame)');ylabel(A,70,'B(nT)');
legend(A.g,1604,1312,72,72,[{c:'#ff0000',t:'Bx',dy:13,tx:48},{c:'#008000',t:'By',dy:35,tx:48},{c:'#0000ff',t:'Bz',dy:58,tx:48}],'gse-legend',15);

A=tpanel('flux-rope-magnetic-field-chart',1590,1778,-6,6);
poly(A,[0,TMAX],[0,0],'#000',1.5,'zero-line','8,6');
poly(A,tGrid,frBx,'#ff0000',2,'bx-prime-line');poly(A,tGrid,frBy,'#008000',2,'by-prime-line');poly(A,tGrid,frBz,'#0000ff',2,'bz-prime-line');poly(A,tGrid,frB,'#000',2,'b-magnitude-line');
tframe(A,rng(-6,6,2),rng(-6,6,2).map(fmtMinus));title(A,'Magnetic Field (Flux Rope Frame)');ylabel(A,70,'B(nT)');
legend(A.g,1602,1597,74,94,[{c:'#ff0000',t:"Bx'",dy:13,tx:48},{c:'#008000',t:"By'",dy:35,tx:48},{c:'#0000ff',t:"Bz'",dy:57,tx:48},{c:'#000',t:'|B|',dy:80,tx:48}],'flux-rope-legend',15);

A=tpanel('pitch-angle-distribution-chart',1872,2061,0,180);
{const g=mk('g',{'shape-rendering':'crispEdges'},A.plot,'pad-heatmap',false);
 padRows.forEach((row,ri)=>{const a0=padAngleBins[ri];const a1=Math.min(a0+10,176);
  const n=row.length;
  for(let c=0;c<n;c++){const lv=+row[c];if(lv===0)continue;
   const t0=c*TMAX/n,t1=(c+1)*TMAX/n;
   const r=mk('rect',{x:A.sx(t0),y:A.sy(a1),width:A.sx(t1)-A.sx(t0)+0.5,height:A.sy(a0)-A.sy(a1)+0.5,fill:padLevelColors[lv]},g,'heatmap-cell',false);}
 });}
tframe(A,[0,60,120,180],['0','60','120','180'],{});title(A,'Suprathermal Electrons Pitch Angle Distribution (96.71eV)');ylabel(A,62,'pitch angle (deg)');
{const g=mk('g',{},svg,'colorbar',false);
 const defs=mk('defs',{},g,'colorbar-defs',false);
 const lg=mk('linearGradient',{id:'jet',x1:0,y1:1,x2:0,y2:0},defs,'jet-gradient',false);
 [['0','#00007f'],['0.11','#0000ff'],['0.36','#00ffff'],['0.5','#7dff7a'],['0.62','#ffff00'],['0.88','#ff0000'],['1','#7f0000']].forEach(s=>mk('stop',{offset:s[0],'stop-color':s[1]},lg,'gradient-stop',false));
 mk('rect',{x:1692,y:1872,width:9,height:189,fill:'url(#jet)',stroke:'#000','stroke-width':2},g,'colorbar-bar',false);
 cbarLabels.forEach((l,i)=>{const Y=1872+i*189/5;
  const t=txt(1710,Y+10,'10',{'font-size':18},'colorbar-label',g);
  const s=mk('tspan',{'font-size':12,dy:-9},t,'exponent',false);s.textContent=fmtMinus(l);});
}

A=tpanel('solar-wind-velocity-chart',2158,2347,-400,50);
poly(A,tGrid,vx,'#ff0000',2,'vx-line');poly(A,tGrid,vy,'#008000',2,'vy-line');poly(A,tGrid,vz,'#0000ff',2,'vz-line');
tframe(A,rng(-400,50,50),rng(-400,50,50).map(fmtMinus));title(A,'Solar Wind Velocity (GSE Frame)');ylabel(A,40,'Vsw(km/s)');
legend(A.g,1604,2165,72,72,[{c:'#ff0000',t:'Vx',dy:13,tx:48},{c:'#008000',t:'Vy',dy:35,tx:48},{c:'#0000ff',t:'Vz',dy:58,tx:48}],'velocity-legend',15);

A=tpanel('plasma-beta-chart',2439,2628,0,5);
poly(A,tGrid,betaP,'#0000ff',2.5,'beta-p-line');poly(A,tGrid,betaTot,'#008000',2.5,'beta-line');
tframe(A,rng(0,5,1),rng(0,5,1).map(String));title(A,'Plasma Beta');
{const cy=2534;const t=txt(68,cy,'',{'font-size':15,'text-anchor':'middle',transform:`rotate(-90 68 ${cy})`},'y-axis-title',A.g);
 const a=mk('tspan',{'font-style':'italic','font-family':'"DejaVu Serif",serif'},t,'beta-symbol',false);a.textContent='\u03b2';
 const b=mk('tspan',{'font-size':10,dy:3,'font-style':'italic'},t,'sub',false);b.textContent='p';
 const c=mk('tspan',{dy:-3},t,'and',false);c.textContent=' and ';
 const d=mk('tspan',{'font-style':'italic','font-family':'"DejaVu Serif",serif'},t,'beta-symbol-2',false);d.textContent='\u03b2';}
legend(A.g,1605,2446,70,57,[{c:'#0000ff',t:'\u03b2p',dy:16,tx:48,it:1,serif:1,w:3},{c:'#008000',t:'\u03b2',dy:42,tx:48,it:1,serif:1,w:3}],'beta-legend',14);

A=tpanel('proton-density-chart',2723,2913,0,30);
poly(A,tGrid,np,'#0000ff',2.5,'np-line');
tframe(A,rng(0,30,5),rng(0,30,5).map(String));title(A,'Proton Number Density');ylabel(A,62,'Np(#/cc)');

A=tpanel('proton-temperature-chart',3006,3195,0,0.5);
poly(A,tpTime,tp,'#0000ff',2.5,'tp-line');
{const A2={plot:A.plot,sx:A.sx,sy:v=>A.sy(v/10)};poly(A2,teTime,teTp,'#ff0000',2.5,'te-tp-line');
 rng(0,5,1).forEach(v=>{const Y=A.sy(v/10);txt(1692,Y+6.5,String(v),{'font-size':18,fill:'#ff0000'},'right-tick-label',A.g);});}
tframe(A,rng(0,0.5,0.1),rng(0,0.5,0.1).map(v=>v.toFixed(1)));
{const t=txt((118+1683)/2,2996,'Proton Temperature and ',{'font-size':24,'text-anchor':'middle'},'chart-title',A.g);
 const a=mk('tspan',{'font-style':'italic','font-family':'"DejaVu Serif",serif'},t,'te',false);a.textContent='T';
 const b=mk('tspan',{'font-size':14,dy:5,'font-style':'italic'},t,'sub-e',false);b.textContent='e';
 const c=mk('tspan',{dy:-5,'font-style':'italic','font-family':'"DejaVu Serif",serif'},t,'slash',false);c.textContent='/T';
 const d=mk('tspan',{'font-size':14,dy:5,'font-style':'italic'},t,'sub-p',false);d.textContent='p';}
{const cy=3100;const t=txt(60,cy,'Tp(10',{'font-size':18,'text-anchor':'middle',transform:`rotate(-90 60 ${cy})`},'y-axis-title',A.g);
 const s=mk('tspan',{'font-size':11,dy:-7},t,'exp',false);s.textContent='6';const r=mk('tspan',{dy:7},t,'unit',false);r.textContent='K)';}
{const cy=3100;txt(1725,cy,'Te/Tp',{'font-size':18,'text-anchor':'middle',fill:'#ff0000','font-style':'italic','font-family':'"DejaVu Serif",serif',transform:`rotate(-90 1725 ${cy})`},'right-axis-title',A.g);}
legend(A.g,1586,3013,90,31,[{c:'#ff0000',t:'Te/Tp',dy:15,tx:48,it:1,serif:1,w:3}],'te-tp-legend',15);
legend(A.g,124,3013,71,28,[{c:'#0000ff',t:'Tp',dy:14,tx:45,w:3}],'tp-legend',16);
</script>
</body></html>
